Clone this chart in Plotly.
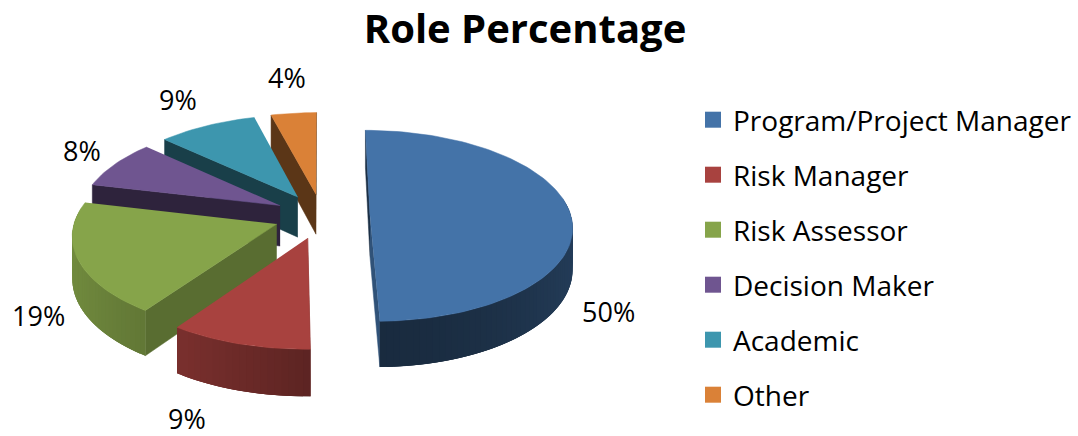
import math
import plotly.graph_objects as go

TITLE = "Role Percentage"
categories = ["Program/Project Manager", "Risk Manager", "Risk Assessor", "Decision Maker", "Academic", "Other"]
labels = [50, 9, 19, 8, 9, 4]
share = [49.7, 10.0, 19.0, 8.2, 9.0, 4.1]
colors = ["#4473A8", "#A8423F", "#86A44A", "#6F5590", "#3D96AE", "#DA8137"]

# projection of the tilted, exploded pie
CX, CY = 322, 216
R, PULL, TILT, PERSP, DEPTH = 201, 48, 0.47, 0.105, 41
LABEL_XY = [(608, 311), (187, 418), (38, 315), (82, 150), (178, 99), (287, 77)]


def project(x, y, drop=0.0):
    s = 1 / (1 - PERSP * y / R)
    return CX + x * s, CY + y * TILT * s + drop * s


def shade(hex_color, f):
    r, g, b = (int(hex_color[i:i + 2], 16) for i in (1, 3, 5))
    return f"rgb({int(r * f)},{int(g * f)},{int(b * f)})"


def poly(pts, color, name=None, width=0.0):
    return go.Scatter(x=[q[0] for q in pts], y=[q[1] for q in pts], mode="lines", fill="toself", fillcolor=color,
                      line=dict(color=color, width=width), hoverinfo="skip" if name is None else "text",
                      text=name, showlegend=False)


total = sum(share)
spans = []
a = 0.0
for v in share:
    b = a + v / total * 2 * math.pi
    spans.append((a, b))
    a = b

traces = []
for i in [5, 4, 3, 2, 1, 0]:
    a0, a1 = spans[i]
    mid = (a0 + a1) / 2
    ox, oy = PULL * math.sin(mid), -PULL * math.cos(mid)
    n = max(6, int((a1 - a0) / 0.03))
    thetas = [a0 + (a1 - a0) * k / n for k in range(n + 1)]
    rim = [(ox + R * math.sin(t), oy - R * math.cos(t)) for t in thetas]
    # radial faces that look towards the viewer
    for p, edge, normal in ((rim[0], a0, a0 - math.pi / 2), (rim[-1], a1, a1 + math.pi / 2)):
        if -math.cos(normal) < -0.05:
            continue
        f = 0.42 + 0.3 * max(0.0, -math.cos(edge))
        pts = [project(ox, oy), project(*p), project(*p, DEPTH), project(ox, oy, DEPTH)]
        traces.append(poly(pts, shade(colors[i], f), width=0.5))
    # outer wall, only the part facing the viewer; each strip overlaps the next
    order = range(n) if math.sin(mid) < 0 else range(n - 1, -1, -1)
    for k in order:
        t = (thetas[k] + thetas[k + 1]) / 2
        if math.cos(t) > 0.15:
            continue
        if math.sin(t) < 0:
            f = 0.55 + 0.3 * abs(math.sin(t))
        else:
            f = 0.38 + 0.15 * math.sin(t) ** 2
        lo, hi = rim[max(k - 1, 0)], rim[min(k + 2, n)]
        pts = [project(*lo), project(*rim[k]), project(*rim[k + 1]), project(*hi),
               project(*hi, DEPTH), project(*rim[k + 1], DEPTH), project(*rim[k], DEPTH), project(*lo, DEPTH)]
        traces.append(poly(pts, shade(colors[i], f)))
    # top face
    top = [project(ox, oy)] + [project(*p) for p in rim]
    traces.append(poly(top, colors[i], f"{categories[i]}: {labels[i]}%", width=0.5))

for i, c in enumerate(categories):
    traces.append(go.Scatter(x=[None], y=[None], mode="markers", name=c, legendgroup=c,
                             marker=dict(symbol="square", size=19, color=colors[i])))

fig = go.Figure(traces)
FONT = "Open Sans"
for (x, y), v in zip(LABEL_XY, labels):
    fig.add_annotation(x=x, y=y, text=f"{v}%", showarrow=False, font=dict(family=FONT, size=27, color="#000"))

fig.update_layout(
    width=1078, height=436, margin=dict(l=0, r=0, t=0, b=0),
    paper_bgcolor="white", plot_bgcolor="white",
    title=dict(text=f"<b>{TITLE}</b>", x=525 / 1078, xanchor="center", y=1 - 29 / 436, yanchor="middle",
               font=dict(family=FONT, size=40, color="#000")),
    xaxis=dict(range=[0, 1078], visible=False, fixedrange=True),
    yaxis=dict(range=[436, 0], visible=False, fixedrange=True),
    legend=dict(x=693 / 1078, xanchor="left", y=1 - 95 / 436, yanchor="top",
                font=dict(family=FONT, size=28, color="#000"), tracegroupgap=15.6,
                bgcolor="rgba(0,0,0,0)"),
)
fig.write_html("out.html", config={"displayModeBar": False},
               post_script="document.body.style.margin='0';document.body.style.overflow='hidden';")
